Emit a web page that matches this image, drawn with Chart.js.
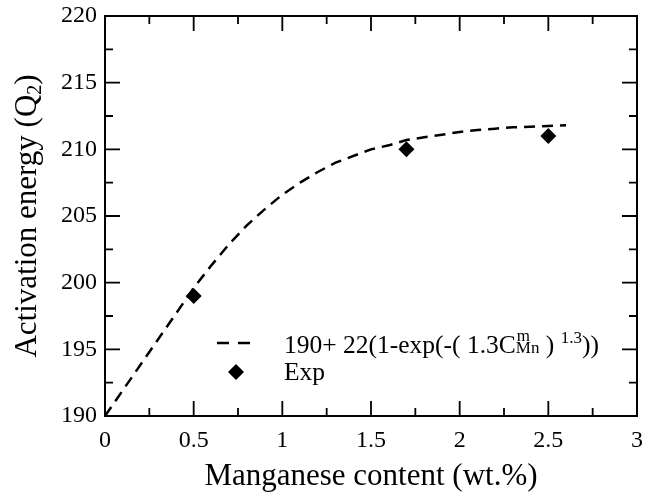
<!DOCTYPE html>
<html><head><meta charset="utf-8">
<script src="https://cdn.jsdelivr.net/npm/chart.js@4/dist/chart.umd.min.js"></script>
<style>html,body{margin:0;padding:0;background:#fff}</style>
</head><body>
<canvas id="c" width="645" height="496"></canvas>
<script>
// Fitted curve
const fitX = [0, 0.5, 0.6, 0.7, 0.8, 0.9, 1.0, 1.1, 1.2, 1.3, 1.4, 1.5, 1.6, 1.7, 1.8, 1.9, 2.0, 2.1, 2.2, 2.3, 2.4, 2.5, 2.6];
const fitY = [190, 199.6, 201.3, 202.9, 204.3, 205.5, 206.6, 207.5, 208.3, 209.0, 209.5, 210.0, 210.3, 210.7, 210.9, 211.1, 211.3, 211.45, 211.55, 211.65, 211.7, 211.75, 211.8];
// Experimental points
const expX = [0.5, 1.7, 2.5];
const expY = [199, 210, 211];
// Axis ticks
const xTicks = [0, 0.5, 1, 1.5, 2, 2.5, 3];
const xMinor = [0.25, 0.75, 1.25, 1.75, 2.25, 2.75];
const yTicks = [190, 195, 200, 205, 210, 215, 220];
const yMinor = [192.5, 197.5, 202.5, 207.5, 212.5, 217.5];

const FONT = '"Liberation Serif", "Times New Roman", Times, serif';

const framePlugin = {
  id: 'frame',
  afterDraw(chart) {
    const ctx = chart.ctx, a = chart.chartArea;
    const xs = chart.scales.x, ys = chart.scales.y;
    ctx.save();
    ctx.strokeStyle = '#000';
    ctx.lineWidth = 2;
    ctx.strokeRect(a.left, a.top, a.right - a.left, a.bottom - a.top);
    ctx.lineWidth = 1.8;
    const MAJ = 15, MIN = 8;
    ctx.beginPath();
    const xt = (v, L) => { const p = xs.getPixelForValue(v);
      ctx.moveTo(p, a.bottom); ctx.lineTo(p, a.bottom - L);
      ctx.moveTo(p, a.top); ctx.lineTo(p, a.top + L); };
    const yt = (v, L) => { const p = ys.getPixelForValue(v);
      ctx.moveTo(a.left, p); ctx.lineTo(a.left + L, p);
      ctx.moveTo(a.right, p); ctx.lineTo(a.right - L, p); };
    xTicks.forEach(v => xt(v, MAJ)); xMinor.forEach(v => xt(v, MIN));
    yTicks.forEach(v => yt(v, MAJ)); yMinor.forEach(v => yt(v, MIN));
    ctx.stroke();

    // X title
    ctx.fillStyle = '#000';
    ctx.font = '31px ' + FONT;
    ctx.textAlign = 'center';
    ctx.textBaseline = 'alphabetic';
    ctx.fillText('Manganese content (wt.%)', (a.left + a.right) / 2, 485);

    // Y title with subscript
    ctx.save();
    ctx.translate(36, (a.top + a.bottom) / 2);
    ctx.rotate(-Math.PI / 2);
    ctx.textAlign = 'left';
    const big = '31px ' + FONT, small = '20px ' + FONT;
    const p1 = 'Activation energy (Q', p2 = '2', p3 = ')';
    ctx.font = big; const w1 = ctx.measureText(p1).width, w3 = ctx.measureText(p3).width;
    ctx.font = small; const w2 = ctx.measureText(p2).width;
    let x0 = -(w1 + w2 + w3) / 2;
    ctx.font = big; ctx.fillText(p1, x0, 0); x0 += w1;
    ctx.font = small; ctx.fillText(p2, x0, 5); x0 += w2;
    ctx.font = big; ctx.fillText(p3, x0, 0);
    ctx.restore();

    // Legend
    const lf = '25.5px ' + FONT, sf = '17px ' + FONT;
    ctx.strokeStyle = '#000';
    ctx.lineWidth = 2.5;
    ctx.setLineDash([12, 9]);
    ctx.beginPath(); ctx.moveTo(217, 343); ctx.lineTo(250, 343); ctx.stroke();
    ctx.setLineDash([]);
    ctx.beginPath();
    const dx = 236, dy = 372, r = 8;
    ctx.moveTo(dx, dy - r); ctx.lineTo(dx + r, dy); ctx.lineTo(dx, dy + r); ctx.lineTo(dx - r, dy); ctx.closePath();
    ctx.fill();

    ctx.textAlign = 'left';
    let lx = 284; const by = 353;
    const seg = (t, f, dyy) => { ctx.font = f; ctx.fillText(t, lx, by + dyy); return ctx.measureText(t).width; };
    lx += seg('190+ 22(1-exp(-( 1.3C', lf, 0);
    ctx.font = sf;
    const wm = ctx.measureText('m').width, wMn = ctx.measureText('Mn').width;
    ctx.fillText('m', lx + 1, by - 12);
    ctx.fillText('Mn', lx, by);
    lx += Math.max(wm, wMn);
    lx += seg(' ) ', lf, 0);
    lx += seg('1.3', sf, -10);
    lx += seg('))', lf, 0);
    ctx.font = lf;
    ctx.fillText('Exp', 284, 380);
    ctx.restore();
  }
};

new Chart(document.getElementById('c'), {
  type: 'scatter',
  data: {
    datasets: [
      {
        label: 'fit',
        data: fitX.map((x, i) => ({ x, y: fitY[i] })),
        showLine: true, borderColor: '#000', borderWidth: 2.5, borderDash: [11, 7],
        pointRadius: 0, fill: false, tension: 0
      },
      {
        label: 'Exp',
        data: expX.map((x, i) => ({ x, y: expY[i] })),
        pointStyle: 'rectRot', pointRadius: 8, backgroundColor: '#000', borderColor: '#000', borderWidth: 0
      }
    ]
  },
  options: {
    responsive: false, animation: false,
    layout: { padding: { top: 16, right: 4, left: 0, bottom: 0 } },
    plugins: { legend: { display: false }, tooltip: { enabled: false } },
    scales: {
      x: {
        type: 'linear', min: 0, max: 3,
        afterBuildTicks: s => { s.ticks = xTicks.map(v => ({ value: v })); },
        afterFit: s => { s.height = 80; s.paddingLeft = 0; s.paddingRight = 0; },
        grid: { display: false, drawTicks: false }, border: { display: false },
        ticks: { padding: 10, color: '#000', font: { family: FONT, size: 24 }, callback: v => String(v), maxRotation: 0, autoSkip: false }
      },
      y: {
        type: 'linear', min: 190, max: 220,
        afterBuildTicks: s => { s.ticks = yTicks.map(v => ({ value: v })); },
        afterFit: s => { s.width = 105; s.paddingTop = 0; s.paddingBottom = 0; },
        grid: { display: false, drawTicks: false }, border: { display: false },
        ticks: { padding: 8, color: '#000', font: { family: FONT, size: 24 }, callback: v => String(v), autoSkip: false }
      }
    }
  },
  plugins: [framePlugin]
});
</script>
</body></html>
